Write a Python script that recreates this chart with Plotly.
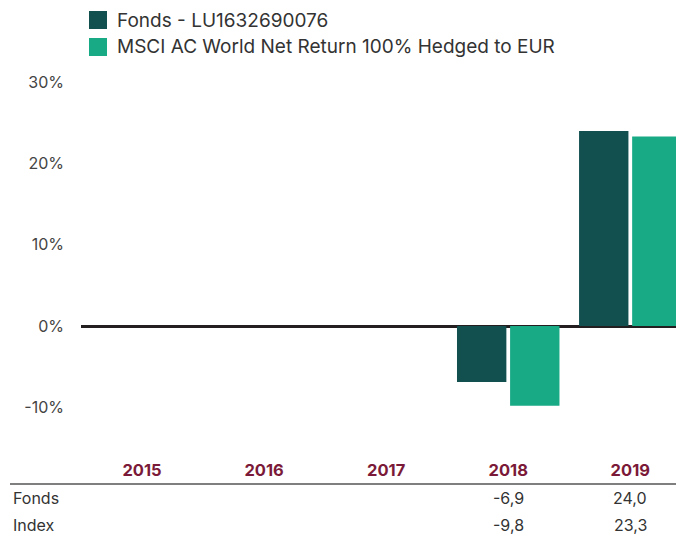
import plotly.graph_objects as go

years = ["2015", "2016", "2017", "2018", "2019"]
fonds = [None, None, None, -6.9, 24.0]
index_vals = [None, None, None, -9.8, 23.3]
series_names = ["Fonds - LU1632690076", "MSCI AC World Net Return 100% Hedged to EUR"]
row_labels = ["Fonds", "Index"]
y_ticks = [-10, 0, 10, 20, 30]
y_tick_labels = ["-10%", "0%", "10%", "20%", "30%"]

c_fonds = "#124f4f"
c_index = "#18a985"
c_year = "#7b1a38"
c_text = "#333333"
FONT = "Inter"

OFF = 8  # page body margin
W, H = 684 - OFF, 534 - OFF
L, R, T, B = 81 - OFF, 0, 70 - OFF, 84
pw, ph = W - L - R, H - T - B
ZERO = 326 - OFF
PPU = 8.13  # pixels per percent


def px2x(px):
    return (px - OFF - L) / pw


def py2y(py):
    return (H - B - (py - OFF)) / ph


fig = go.Figure()
fig.add_trace(go.Bar(x=years, y=fonds, name=series_names[0], marker_color=c_fonds,
                     marker_line_width=0, showlegend=False))
fig.add_trace(go.Bar(x=years, y=index_vals, name=series_names[1], marker_color=c_index,
                     marker_line_width=0, showlegend=False))

shapes = []
annotations = []
# legend
for i, (name, col) in enumerate(zip(series_names, [c_fonds, c_index])):
    yc = 20 + 27 * i
    shapes.append(dict(type="rect", xref="paper", yref="paper",
                       x0=px2x(89), x1=px2x(107), y0=py2y(yc + 9), y1=py2y(yc - 9),
                       fillcolor=col, line=dict(width=0)))
    annotations.append(dict(xref="paper", yref="paper", x=px2x(115), y=py2y(yc),
                            text=name, showarrow=False, xanchor="left", yanchor="middle",
                            font=dict(family=FONT, size=19, color=c_text)))

# separator line under year labels
shapes.append(dict(type="line", xref="paper", yref="paper", x0=px2x(10), x1=1,
                   y0=py2y(484), y1=py2y(484), line=dict(color="#555555", width=1.5)))

# table rows
for r, (lab, vals) in enumerate(zip(row_labels, [fonds, index_vals])):
    yc = 498 + 27 * r
    annotations.append(dict(xref="paper", yref="paper", x=px2x(11), y=py2y(yc),
                            text=lab, showarrow=False, xanchor="left", yanchor="middle",
                            font=dict(family=FONT, size=16, color=c_text)))
    for ci, v in enumerate(vals):
        if v is None:
            continue
        annotations.append(dict(xref="x", yref="paper", x=ci, y=py2y(yc),
                                text=f"{v:.1f}".replace(".", ","), showarrow=False,
                                xanchor="center", yanchor="middle",
                                font=dict(family=FONT, size=16, color=c_text)))

fig.update_layout(
    width=W, height=H,
    margin=dict(l=L, r=R, t=T, b=B),
    plot_bgcolor="white", paper_bgcolor="white",
    barmode="group", bargap=0.13, bargroupgap=0.07,
    font=dict(family=FONT, color=c_text),
    shapes=shapes, annotations=annotations,
    xaxis=dict(type="category", range=[-0.5, 4.44], showgrid=False, showline=False,
               zeroline=False, ticks="",
               tickfont=dict(family=FONT, size=16.5, color=c_year, weight="bold"),
               ticklabelstandoff=8),
    yaxis=dict(range=[-(H - B - ZERO) / PPU, (ZERO - T) / PPU],
               tickmode="array", tickvals=y_ticks, ticktext=y_tick_labels,
               showgrid=False, showline=False,
               zeroline=True, zerolinecolor="#231f20", zerolinewidth=2.5,
               tickfont=dict(family=FONT, size=16, color="#444444"),
               ticklabelstandoff=16),
)

fig.write_html("out.html")
